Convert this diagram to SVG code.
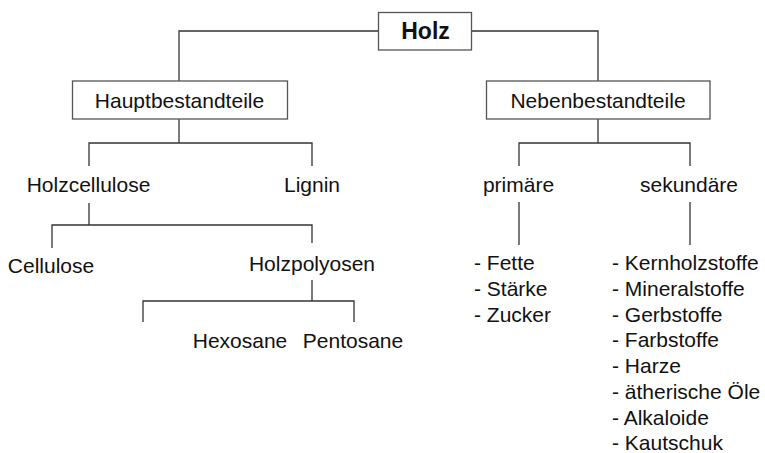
<svg xmlns="http://www.w3.org/2000/svg" width="765" height="453" viewBox="0 0 765 453">
<style>
.bg{fill:#fff}
.box{fill:#fff;stroke:#555;stroke-width:1.3}
.ln{fill:none;stroke:#333;stroke-width:1.3}
.t{font-family:"Liberation Sans",Arial,sans-serif;font-size:21px;fill:#111}
.c{text-anchor:middle}
.b{font-weight:bold;font-size:23px}
</style>
<rect class="bg" x="0" y="0" width="765" height="453"/>
<g id="connectors">
<path class="ln" d="M378 31H179V81"/>
<path class="ln" d="M472 31H598V81"/>
<path class="ln" d="M179 119V143"/>
<path class="ln" d="M89 166V143H312V166"/>
<path class="ln" d="M89 203V225"/>
<path class="ln" d="M52 248V225H312V243"/>
<path class="ln" d="M312 280V301"/>
<path class="ln" d="M143 322V301H354V322"/>
<path class="ln" d="M598 119V143"/>
<path class="ln" d="M519 166V143H690V166"/>
<path class="ln" d="M519 202V245"/>
<path class="ln" d="M690 202V245"/>
</g>
<g id="holz"><rect class="box" x="378.5" y="12.5" width="93" height="37.5"/><text class="t c b" x="425.5" y="39">Holz</text></g>
<g id="haupt"><rect class="box" x="72.5" y="81" width="215" height="38"/><text class="t c" x="179.5" y="107.5">Hauptbestandteile</text></g>
<g id="neben"><rect class="box" x="486.5" y="81" width="223.5" height="38"/><text class="t c" x="598" y="107.5">Nebenbestandteile</text></g>
<g id="holzcellulose"><text class="t c" x="88.5" y="192">Holzcellulose</text></g>
<g id="lignin"><text class="t c" x="312" y="192">Lignin</text></g>
<g id="cellulose"><text class="t c" x="51" y="273">Cellulose</text></g>
<g id="holzpolyosen"><text class="t c" x="312" y="271">Holzpolyosen</text></g>
<g id="hexosane"><text class="t c" x="240" y="348">Hexosane</text></g>
<g id="pentosane"><text class="t c" x="353" y="348">Pentosane</text></g>
<g id="primaere"><text class="t c" x="518.5" y="192">primäre</text></g>
<g id="sekundaere"><text class="t c" x="689" y="192">sekundäre</text></g>
<g id="primaere-liste">
<text class="t" x="474" y="270">- Fette</text>
<text class="t" x="474" y="296">- Stärke</text>
<text class="t" x="474" y="322">- Zucker</text>
</g>
<g id="sekundaere-liste">
<text class="t" x="612" y="270">- Kernholzstoffe</text>
<text class="t" x="612" y="296">- Mineralstoffe</text>
<text class="t" x="612" y="321.5">- Gerbstoffe</text>
<text class="t" x="612" y="347">- Farbstoffe</text>
<text class="t" x="612" y="373">- Harze</text>
<text class="t" x="612" y="399">- ätherische Öle</text>
<text class="t" x="612" y="424.5">- Alkaloide</text>
<text class="t" x="612" y="450">- Kautschuk</text>
</g>
</svg>
